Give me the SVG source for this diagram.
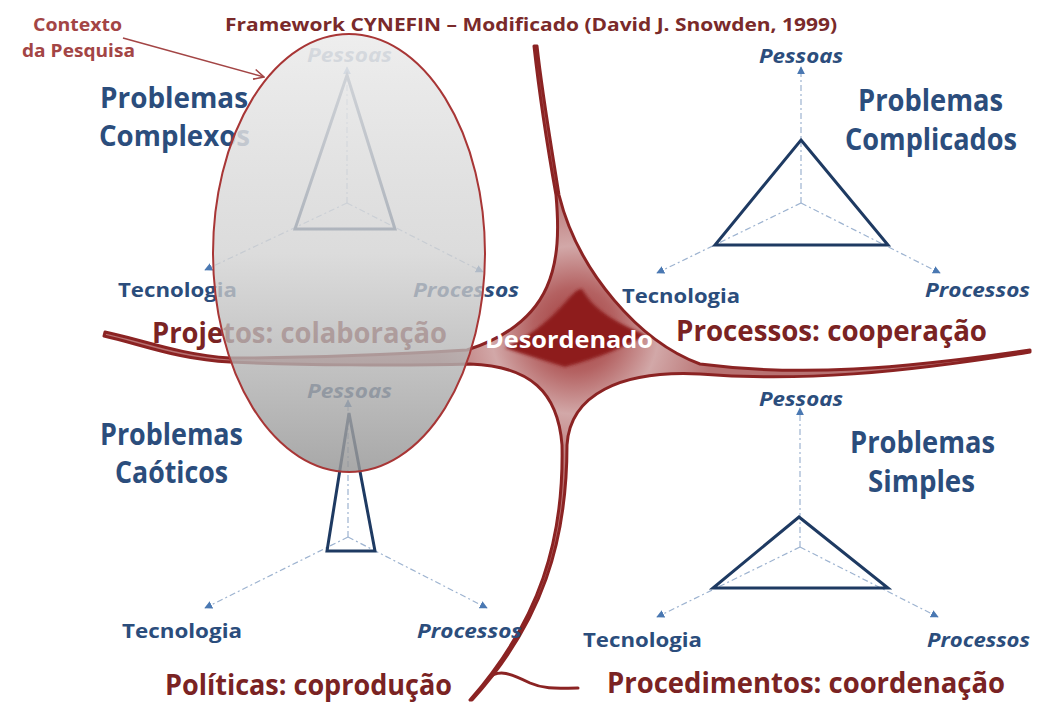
<svg xmlns="http://www.w3.org/2000/svg" width="1051" height="704" viewBox="0 0 1051 704">
<style>
.t{font-family:"Open Sans","Liberation Sans",sans-serif;font-weight:700}
.blue{fill:#2b4d7c}
.big{font-size:30px}
.lab{font-size:20px}
.it{font-style:italic}
.dom{font-size:28px;fill:#7a2323}
.tri{fill:none;stroke:#1e3a62;stroke-width:3;stroke-linejoin:miter}
.ax{fill:none;stroke:#9db3d0;stroke-width:1.2;stroke-dasharray:6 3 2 3;marker-end:url(#ah)}
</style>
<defs>
<marker id="ah" viewBox="0 0 10 10" refX="9" refY="5" markerWidth="8" markerHeight="8" markerUnits="userSpaceOnUse" orient="auto">
<path d="M0,0 L10,5 L0,10 Z" fill="#4a78b2"/>
</marker>
<marker id="oa" viewBox="0 0 12 12" refX="11" refY="6" markerWidth="12" markerHeight="12" markerUnits="userSpaceOnUse" orient="auto">
<path d="M1,1 L11,6 L1,11" fill="none" stroke="#a34545" stroke-width="1.6"/>
</marker>
<radialGradient id="cg" gradientUnits="userSpaceOnUse" cx="575" cy="330" r="140">
<stop offset="0" stop-color="#a03838"/>
<stop offset="0.3" stop-color="#b46262"/>
<stop offset="0.6" stop-color="#d2a8a8"/>
<stop offset="1" stop-color="#b87272"/>
</radialGradient>
<linearGradient id="eg" x1="0" y1="0" x2="0" y2="1">
<stop offset="0" stop-color="#ececec" stop-opacity="0.9"/>
<stop offset="0.5" stop-color="#d2d2d2" stop-opacity="0.78"/>
<stop offset="1" stop-color="#959595" stop-opacity="0.82"/>
</linearGradient>
<filter id="bl" x="-20%" y="-20%" width="140%" height="140%"><feGaussianBlur stdDeviation="1.5"/></filter>
</defs>
<rect width="1051" height="704" fill="#fff"/>

<g id="boundaries">
<path d="M534,46 C540,100 548,150 556,195 C562,262 555,322 467,350 C380,355 280,358 230,358 C180,355 140,339 105,332 L104,336 C140,344 180,360 230,362 C300,365 400,366 470,364 C530,366 558,392 562,445 C564,540 540,620 470,700 L472,700 C543,622 567,540 567,445 C570,395 620,370 700,374 C800,382 900,373 1030,352 L1030,350 C900,369 800,377 700,364 C640,342 578,272 559,195 C552,150 543,100 537,46 Z" fill="url(#cg)" stroke="#8b2323" stroke-width="3" stroke-linejoin="round"/>
<path d="M582,289 C591,304 604,318 646,335 C624,347 601,357 565,367 C545,361 524,354 505,348 C530,336 548,321 560,308 C570,298 575,289 582,289 Z" fill="#8e1f1f" filter="url(#bl)"/>
<path d="M488,679 C498,668 512,674 530,683 C546,690 560,688 578,688" fill="none" stroke="#8b2323" stroke-width="3" stroke-linecap="round"/>
</g>

<g id="connectors">
<path class="ax" d="M347,203 L347,67"/>
<path class="ax" d="M347,203 L205,270"/>
<path class="ax" d="M347,203 L483,272"/>
<path class="ax" d="M801,203 L801,67"/>
<path class="ax" d="M801,203 L657,273"/>
<path class="ax" d="M801,203 L940,273"/>
<path class="ax" d="M800,547 L800,408"/>
<path class="ax" d="M800,547 L657,617"/>
<path class="ax" d="M800,547 L938,617"/>
<path class="ax" d="M348,537 L348,400"/>
<path class="ax" d="M348,537 L205,608"/>
<path class="ax" d="M348,537 L487,608"/>
</g>

<g id="complexos">
<text class="t blue" font-size="28" x="100" y="108" textLength="148" lengthAdjust="spacingAndGlyphs">Problemas</text>
<text class="t blue" font-size="28" x="99" y="146" textLength="151" lengthAdjust="spacingAndGlyphs">Complexos</text>
<polygon class="tri" points="347,75 395,229 295,229"/>
<text class="t blue lab it" x="307" y="62" textLength="85" lengthAdjust="spacingAndGlyphs">Pessoas</text>
<text class="t blue lab" x="118" y="297" textLength="119" lengthAdjust="spacingAndGlyphs">Tecnologia</text>
<text class="t blue lab it" x="413" y="297" textLength="106" lengthAdjust="spacingAndGlyphs">Processos</text>
</g>

<g id="caoticos">
<text class="t blue big" x="100" y="445" textLength="143" lengthAdjust="spacingAndGlyphs">Problemas</text>
<text class="t blue big" x="115" y="483" textLength="113" lengthAdjust="spacingAndGlyphs">Caóticos</text>
<polygon class="tri" points="349,413 375,551 327,551"/>
<text class="t blue lab it" x="307" y="398" textLength="85" lengthAdjust="spacingAndGlyphs">Pessoas</text>
<text class="t blue lab" x="122" y="638" textLength="120" lengthAdjust="spacingAndGlyphs">Tecnologia</text>
<text class="t blue lab it" x="417" y="638" textLength="105" lengthAdjust="spacingAndGlyphs">Processos</text>
</g>

<g id="projetos">
<text class="t dom" x="152" y="343" textLength="295" lengthAdjust="spacingAndGlyphs">Projetos: colaboração</text>
</g>

<g id="contexto-pesquisa">
<ellipse cx="349" cy="253" rx="136" ry="219" fill="url(#eg)" stroke="#a83636" stroke-width="2"/>
</g>

<g id="complicados">
<text class="t blue big" x="858" y="111" textLength="145" lengthAdjust="spacingAndGlyphs">Problemas</text>
<text class="t blue big" x="845" y="150" textLength="172" lengthAdjust="spacingAndGlyphs">Complicados</text>
<polygon class="tri" points="801,140 888,245 715,245"/>
<text class="t blue lab it" x="759" y="63" textLength="84" lengthAdjust="spacingAndGlyphs">Pessoas</text>
<text class="t blue lab" x="622" y="303" textLength="118" lengthAdjust="spacingAndGlyphs">Tecnologia</text>
<text class="t blue lab it" x="925" y="297" textLength="105" lengthAdjust="spacingAndGlyphs">Processos</text>
</g>

<g id="simples">
<text class="t blue big" x="850" y="453" textLength="145" lengthAdjust="spacingAndGlyphs">Problemas</text>
<text class="t blue big" x="868" y="492" textLength="107" lengthAdjust="spacingAndGlyphs">Simples</text>
<polygon class="tri" points="799,517 888,588 713,588"/>
<text class="t blue lab it" x="759" y="406" textLength="84" lengthAdjust="spacingAndGlyphs">Pessoas</text>
<text class="t blue lab" x="583" y="647" textLength="119" lengthAdjust="spacingAndGlyphs">Tecnologia</text>
<text class="t blue lab it" x="927" y="647" textLength="103" lengthAdjust="spacingAndGlyphs">Processos</text>
</g>

<g id="processos">
<text class="t dom" x="676" y="341" textLength="311" lengthAdjust="spacingAndGlyphs">Processos: cooperação</text>
</g>
<g id="politicas">
<text class="t dom" x="165" y="695" textLength="287" lengthAdjust="spacingAndGlyphs">Políticas: coprodução</text>
</g>
<g id="procedimentos">
<text class="t dom" x="607" y="693" textLength="398" lengthAdjust="spacingAndGlyphs">Procedimentos: coordenação</text>
</g>

<g id="desordenado">
<text class="t" x="485" y="348" font-size="23" fill="#ffffff" textLength="168" lengthAdjust="spacingAndGlyphs">Desordenado</text>
</g>

<g id="title">
<text class="t" x="225" y="31" font-size="18" fill="#7a2a2a" textLength="612" lengthAdjust="spacingAndGlyphs">Framework CYNEFIN – Modificado (David J. Snowden, 1999)</text>
</g>

<g id="contexto">
<text class="t" x="33" y="31" font-size="17" fill="#a34545" textLength="89" lengthAdjust="spacingAndGlyphs">Contexto</text>
<text class="t" x="22" y="57" font-size="17" fill="#a34545" textLength="113" lengthAdjust="spacingAndGlyphs">da Pesquisa</text>
<path d="M123,38 L264,77" fill="none" stroke="#a34545" stroke-width="1.6" marker-end="url(#oa)"/>
</g>
</svg>
